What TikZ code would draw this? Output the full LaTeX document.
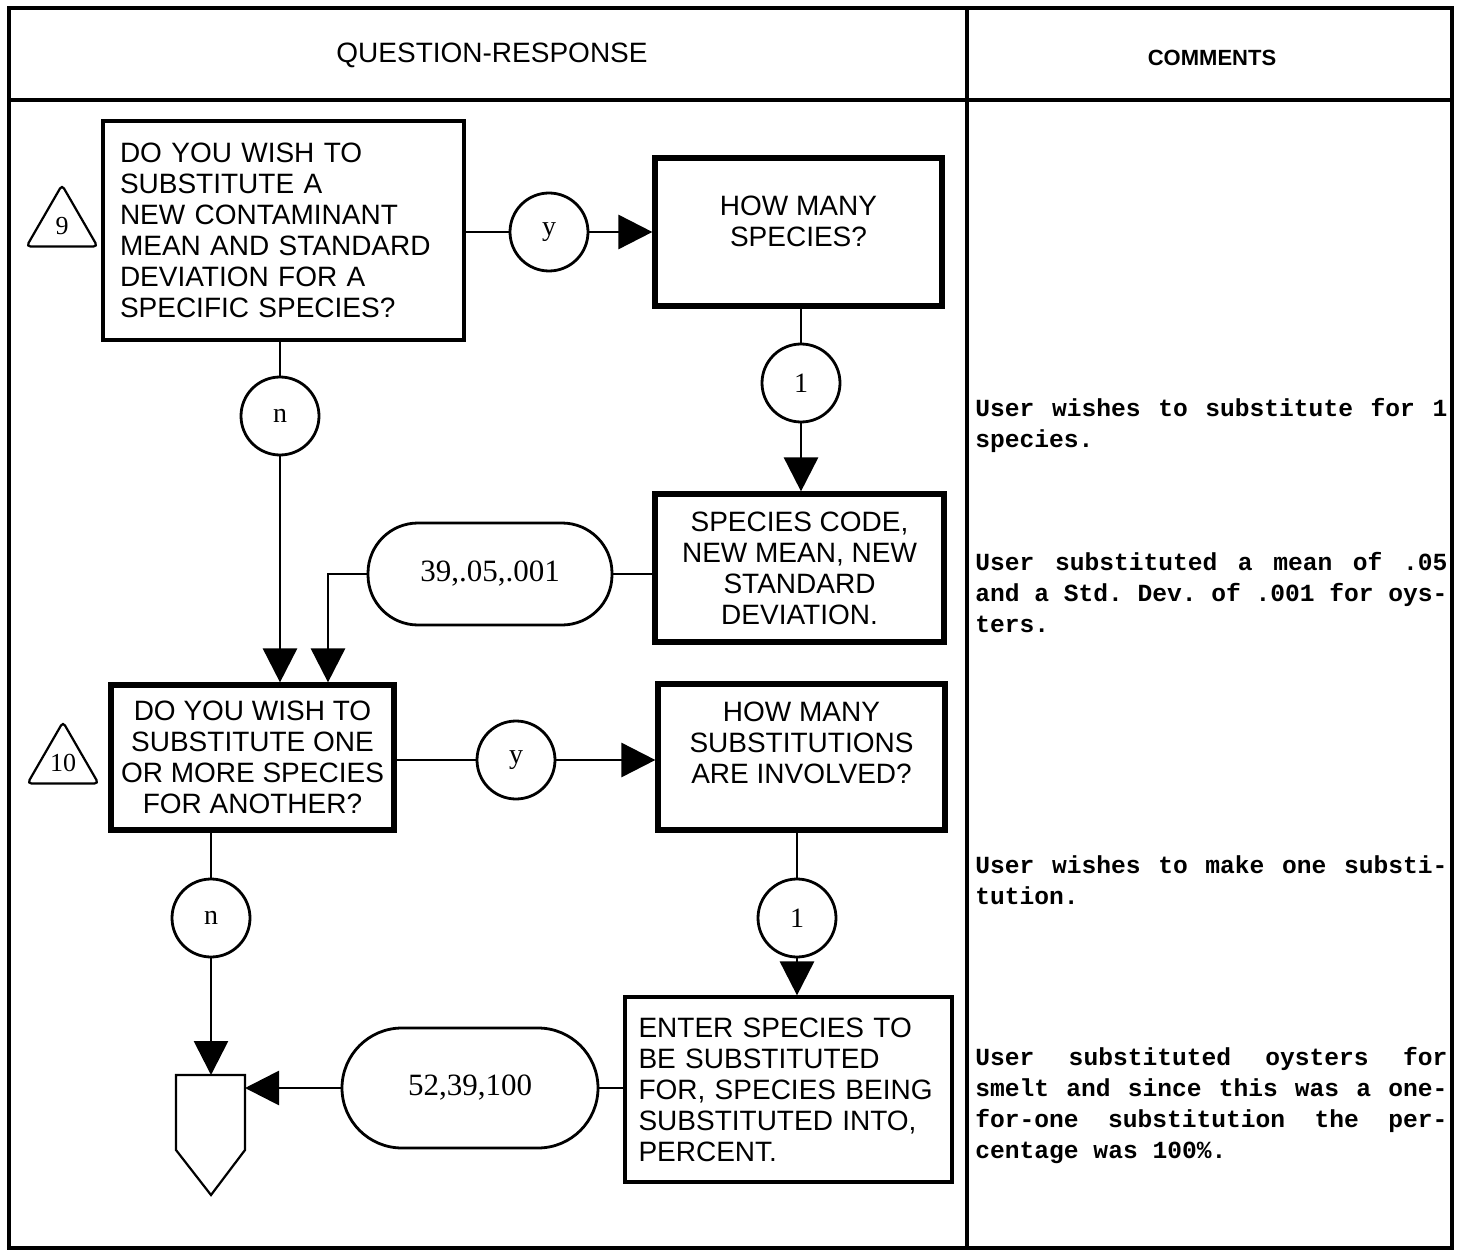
\documentclass[tikz,border=0pt]{standalone}
\usepackage{fontspec}
\setmainfont{Liberation Sans}
\newfontfamily\valfont{Liberation Serif}
\newfontfamily\commfont{Liberation Mono}
\usetikzlibrary{arrows.meta,shapes.geometric}

\begin{document}
\begin{tikzpicture}
    [
        x=0.5pt, y=-0.5pt,
        frame/.style={line width=2pt},
        question/.style={rectangle, draw, line width=1.6pt, inner sep=0pt, font=\fontsize{14}{15.5}\selectfont},
        heavybox/.style={question, line width=2.6pt},
        answer/.style={rectangle, draw, line width=1.4pt, rounded corners=25pt, font=\valfont\fontsize{15.5}{17}\selectfont},
        switch/.style={circle, draw, line width=1.4pt, minimum size=39pt, inner sep=0pt, font=\valfont\fontsize{14}{14}\selectfont},
        marker/.style={regular polygon, regular polygon sides=3, draw, line width=1.1pt, rounded corners=2pt, minimum size=41pt, inner sep=0pt, font=\valfont\fontsize{13}{13}\selectfont},
        flow/.style={line width=1.4pt},
        arrow/.style={flow, -{Triangle[length=17pt,width=17pt]}},
        remark/.style={anchor=base west, inner sep=0pt, font=\commfont\bfseries\fontsize{12.3}{15.5}\selectfont},
    ]
    \useasboundingbox (0,0) rectangle (1461,1251);
    \draw[frame] (9,8) rectangle (1452,1248);
    \draw[frame] (9,100) -- (1452,100);
    \draw[frame] (967,8) -- (967,1248);
    \node (hq) at (492,55) [font=\fontsize{14}{14}\selectfont] {QUESTION-RESPONSE};
    \node (hc) at (1212,58) [font=\bfseries\fontsize{11}{11}\selectfont] {COMMENTS};

    \node (t9) at (62,226) [marker] {9};
    \node (q9) at (283.5,230.5) [question, minimum width=180.5pt, minimum height=109.5pt, text width=163.5pt, align=left] {DO YOU WISH TO\\SUBSTITUTE A\\NEW CONTAMINANT\\MEAN AND STANDARD\\DEVIATION FOR A\\SPECIFIC SPECIES?};
    \node (y1) at (549,232) [switch] {y};
    \node (b2) at (798.5,232) [heavybox, minimum width=143.5pt, minimum height=74pt, align=center, text depth=11.2pt] {HOW MANY\\SPECIES?};
    \node (k1) at (801,383) [switch] {1};
    \node (b3) at (799.5,568) [heavybox, minimum width=144.5pt, minimum height=74pt, align=center] {SPECIES CODE,\\NEW MEAN, NEW\\STANDARD\\DEVIATION.};
    \node (v1) at (490,574) [answer, minimum width=122pt, minimum height=51pt] {39,.05,.001};
    \node (n1) at (280,416) [switch] {n};

    \node (t10) at (63,763) [marker] {10};
    \node (q10) at (252.5,757.5) [heavybox, minimum width=141.5pt, minimum height=72.5pt, align=center] {DO YOU WISH TO\\SUBSTITUTE ONE\\OR MORE SPECIES\\FOR ANOTHER?};
    \node (y2) at (516,760) [switch] {y};
    \node (b5) at (801.5,757) [heavybox, minimum width=143.5pt, minimum height=73pt, align=center, text depth=14.2pt] {HOW MANY\\SUBSTITUTIONS\\ARE INVOLVED?};
    \node (k2) at (797,918) [switch] {1};
    \node (b6) at (788.5,1089.5) [question, minimum width=163.5pt, minimum height=92.5pt, text width=150pt, align=left] {ENTER SPECIES TO\\BE SUBSTITUTED\\FOR, SPECIES BEING\\SUBSTITUTED INTO,\\PERCENT.};
    \node (v2) at (470,1088) [answer, minimum width=128pt, minimum height=60pt, rounded corners=30pt] {52,39,100};
    \node (n2) at (211,918) [switch] {n};

    \draw[flow, line width=1.1pt] (176,1075) -- (245,1075) -- (245,1150) -- (211,1195) -- (176,1150) -- cycle;
    \coordinate (offn) at (211,1075);
    \coordinate (offe) at (245,1088);

    \draw[flow] (y1 -| q9.east) -- (y1);
    \draw[arrow] (y1) -- (y1 -| b2.west);
    \draw[flow] (k1 |- b2.south) -- (k1);
    \draw[arrow] (k1) -- (k1 |- b3.north);
    \draw[flow] (v1 -| b3.west) -- (v1);
    \draw[arrow] (v1) -| ([xshift=37.75pt]q10.north);
    \draw[arrow] (n1 |- q9.south) -- (n1) -- (n1 |- q10.north);
    \draw[flow] (y2 -| q10.east) -- (y2);
    \draw[arrow] (y2) -- (y2 -| b5.west);
    \draw[flow] (k2 |- b5.south) -- (k2);
    \draw[arrow] (k2) -- (k2 |- b6.north);
    \draw[flow] (v2 -| b6.west) -- (v2);
    \draw[arrow] (v2) -- (offe);
    \draw[arrow] (n2 |- q10.south) -- (n2) -- (offn);

    \node (c1) at (975,416) [remark] {\parbox[t]{236pt}{\frenchspacing\spaceskip=0.6em plus 3em minus 0.1em\relax
        \makebox[\linewidth][s]{User wishes to substitute for 1}\\species.}};
    \node (c2) at (975,570) [remark] {\parbox[t]{236pt}{\frenchspacing\spaceskip=0.6em plus 3em minus 0.1em\relax
        \makebox[\linewidth][s]{User substituted a mean of .05}\\\makebox[\linewidth][s]{and a Std. Dev. of .001 for oys-}\\ters.}};
    \node (c3) at (975,873) [remark] {\parbox[t]{236pt}{\frenchspacing\spaceskip=0.6em plus 3em minus 0.1em\relax
        \makebox[\linewidth][s]{User wishes to make one substi-}\\tution.}};
    \node (c4) at (975,1065) [remark] {\parbox[t]{236pt}{\frenchspacing\spaceskip=0.6em plus 3em minus 0.1em\relax
        \makebox[\linewidth][s]{User substituted oysters for}\\\makebox[\linewidth][s]{smelt and since this was a one-}\\\makebox[\linewidth][s]{for-one substitution the per-}\\centage was 100\%.}};
\end{tikzpicture}
\end{document}
